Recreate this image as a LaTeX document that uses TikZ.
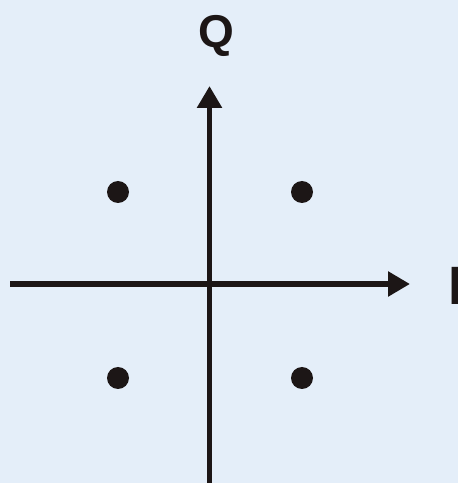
\documentclass[tikz,border=0pt]{standalone}
\usepackage{fontspec}
\setmainfont{Liberation Sans}
\usetikzlibrary{arrows.meta}
\definecolor{bgblue}{RGB}{228,238,249}
\definecolor{ink}{RGB}{28,22,22}
\begin{document}
\begin{tikzpicture}[x=1pt,y=1pt,
  axis/.style={draw=ink,line width=5.5pt,-{Triangle[length=22pt,width=24pt]}},
  dot/.style={circle,fill=ink,minimum size=22pt,inner sep=0pt},
  lbl/.style={text=ink,inner sep=0pt,font=\bfseries}]
\fill[bgblue] (0,0) rectangle (458,483);
\useasboundingbox (0,0) rectangle (458,483);
\coordinate (xl) at (10,199);
\coordinate (xr) at (410,199);
\coordinate (yb) at (209.5,0);
\coordinate (yt) at (209.5,397);
\draw[axis] (xl) -- (xr);
\draw[axis] (yb) -- (yt);
\node[dot] (d1) at (118,291) {};
\node[dot] (d2) at (302,291) {};
\node[dot] (d3) at (118,105) {};
\node[dot] (d4) at (302,105) {};
\node[lbl,anchor=base,font=\fontsize{46}{46}\selectfont\bfseries] (q) at (216.5,435) {Q};
\node[lbl,anchor=base west,font=\fontsize{54}{54}\selectfont\bfseries] (i) at (448.5,178) {I};
\end{tikzpicture}
\end{document}
